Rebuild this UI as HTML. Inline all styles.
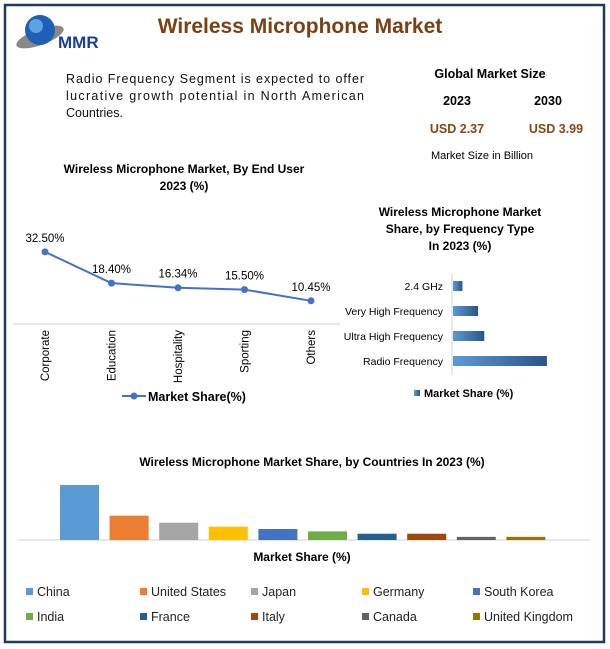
<!DOCTYPE html>
<html><head><meta charset="utf-8"><style>
body{margin:0;width:610px;height:649px;background:#fff;overflow:hidden;font-family:"Liberation Sans",sans-serif}
svg{display:block}
text{font-family:"Liberation Sans",sans-serif}
</style></head><body>
<svg width="610" height="649">
<rect x="5" y="5" width="599" height="637" fill="#fff" stroke="#1f3b5c" stroke-width="2.5"/>
<g>
<ellipse cx="40" cy="37" rx="25" ry="8" fill="#888" transform="rotate(-20 40 37)"/>
<circle cx="40" cy="30" r="15" fill="#1e5fb8"/>
<circle cx="36" cy="26" r="7" fill="#6fb3ee" opacity="0.8"/>
<text x="58" y="48" font-family="Liberation Serif" font-weight="bold" font-size="17" fill="#1a3d9a">MMR</text>
</g>
<text x="300" y="33" text-anchor="middle" font-size="21" font-weight="bold" fill="#7b3f12">Wireless Microphone  Market</text>
<g font-size="12.5" fill="#111">
<text x="66" y="83" textLength="298" lengthAdjust="spacing">Radio Frequency Segment is expected to offer</text>
<text x="66" y="100" textLength="298" lengthAdjust="spacing">lucrative growth potential in North American</text>
<text x="66" y="117">Countries.</text>
</g>
<g>
<text x="490" y="78" text-anchor="middle" font-size="12.5" font-weight="bold">Global Market Size</text>
<text x="457" y="105" text-anchor="middle" font-size="12.5" font-weight="bold">2023</text>
<text x="548" y="105" text-anchor="middle" font-size="12.5" font-weight="bold">2030</text>
<text x="457" y="133" text-anchor="middle" font-size="12.5" font-weight="bold" fill="#8b4513">USD 2.37</text>
<text x="556" y="133" text-anchor="middle" font-size="12.5" font-weight="bold" fill="#8b4513">USD 3.99</text>
<text x="482" y="159" text-anchor="middle" font-size="11">Market Size in Billion</text>
</g>
<text x="184" y="173" text-anchor="middle" font-size="12" font-weight="bold">Wireless Microphone Market, By End User</text>
<text x="184" y="190" text-anchor="middle" font-size="12" font-weight="bold">2023 (%)</text>
<g id="line"></g>
<text x="460" y="216" text-anchor="middle" font-size="12" font-weight="bold">Wireless Microphone Market</text>
<text x="460" y="233" text-anchor="middle" font-size="12" font-weight="bold">Share, by Frequency Type</text>
<text x="460" y="250" text-anchor="middle" font-size="12" font-weight="bold">In 2023 (%)</text>
<g id="hbar"></g>
<text x="312" y="466" text-anchor="middle" font-size="12" font-weight="bold">Wireless Microphone Market Share, by Countries In 2023 (%)</text>
<g id="vbar"></g>
<text x="302" y="561" text-anchor="middle" font-size="12" font-weight="bold">Market Share (%)</text>
<g id="legend"></g>
</svg>
<script>
const NS='http://www.w3.org/2000/svg';
function mk(p,t,a){const e=document.createElementNS(NS,t);for(const k in a)e.setAttribute(k,a[k]);p.appendChild(e);return e;}
// line chart data
const endUsers=['Corporate','Education','Hospitality','Sporting','Others'];
const endShare=[32.5,18.4,16.34,15.5,10.45];
const endLabels=['32.50%','18.40%','16.34%','15.50%','10.45%'];
// freq data
const freqTypes=['2.4 GHz','Very High Frequency','Ultra High Frequency','Radio Frequency'];
const freqShare=[3,8,10,30];
// country data
const countries=['China','United States','Japan','Germany','South Korea','India','France','Italy','Canada','United Kingdom'];
const countryShare=[35,15.5,11,8.5,7,5.5,4,4,2,2];
const countryColors=['#5b9bd5','#ed7d31','#a5a5a5','#ffc000','#4472c4','#70ad47','#255e91','#9e480e','#636363','#997300'];

const L=document.getElementById('line');
const lx=i=>45+i*66.5, ly=v=>324-v*2.22;
let ax=mk(L,'line',{x1:13,y1:324,x2:340,y2:324,stroke:'#d0d0d0'});

let pl=mk(L,'polyline',{points:endShare.map((v,i)=>lx(i)+','+ly(v)).join(' '),fill:'none',stroke:'#4472c4','stroke-width':2});

endShare.forEach((v,i)=>{
 let c=mk(L,'circle',{cx:lx(i),cy:ly(v),r:3.5,fill:'#4472c4'});
 
 let t=mk(L,'text',{x:lx(i),y:ly(v)-10,'text-anchor':'middle','font-size':11.5});t.textContent=endLabels[i];
 
 let c2=mk(L,'text',{x:0,y:0,'text-anchor':'end','font-size':11.5,transform:`translate(${lx(i)+4},330) rotate(-90)`});c2.textContent=endUsers[i];
 
});
let lg=mk(L,'g',{});
mk(lg,'line',{x1:122,y1:396,x2:146,y2:396,stroke:'#4472c4','stroke-width':2});
mk(lg,'circle',{cx:134,cy:396,r:3.5,fill:'#4472c4'});
let lt=mk(lg,'text',{x:148,y:401,'font-size':12.5,'font-weight':'bold'});lt.textContent='Market Share(%)';

const H=document.getElementById('hbar');
let defs=mk(H,'defs',{});let gr=mk(defs,'linearGradient',{id:'hg',x1:0,x2:1,y1:0,y2:0});
mk(gr,'stop',{offset:0,'stop-color':'#5b9bd5'});mk(gr,'stop',{offset:1,'stop-color':'#2a5587'});
let hax=mk(H,'line',{x1:452,y1:274,x2:452,y2:375,stroke:'#d0d0d0'});

const hy=i=>286+i*25, hw=v=>v*3.13;
freqShare.forEach((v,i)=>{
 let r=mk(H,'rect',{x:453,y:hy(i)-5,width:hw(v),height:10,fill:'url(#hg)'});
 
 let t=mk(H,'text',{x:443,y:hy(i)+4,'text-anchor':'end','font-size':10.5});t.textContent=freqTypes[i];
 
});
let hl=mk(H,'g',{});
mk(hl,'rect',{x:414,y:390,width:6,height:6,fill:'url(#hg)'});
let ht=mk(hl,'text',{x:424,y:397,'font-size':11,'font-weight':'bold'});ht.textContent='Market Share (%)';

const V=document.getElementById('vbar');
let vax=mk(V,'line',{x1:18,y1:540,x2:590,y2:540,stroke:'#d0d0d0'});

const vx=i=>60+i*49.6, vh=v=>v*1.57;
countryShare.forEach((v,i)=>{
 let r=mk(V,'rect',{x:vx(i),y:540-vh(v),width:39,height:vh(v),fill:countryColors[i]});
 
});
const G=document.getElementById('legend');
countries.forEach((c,i)=>{
 const x=26+(i%5)*111+(i%5>0?3:0), y=i<5?592:617;
 let g=mk(G,'g',{});
 mk(g,'rect',{x:x,y:y-4,width:7,height:7,fill:countryColors[i]});
 let t=mk(g,'text',{x:x+11,y:y+4,'font-size':12.5,fill:'#222'});t.textContent=c;
});
</script>
</body></html>
